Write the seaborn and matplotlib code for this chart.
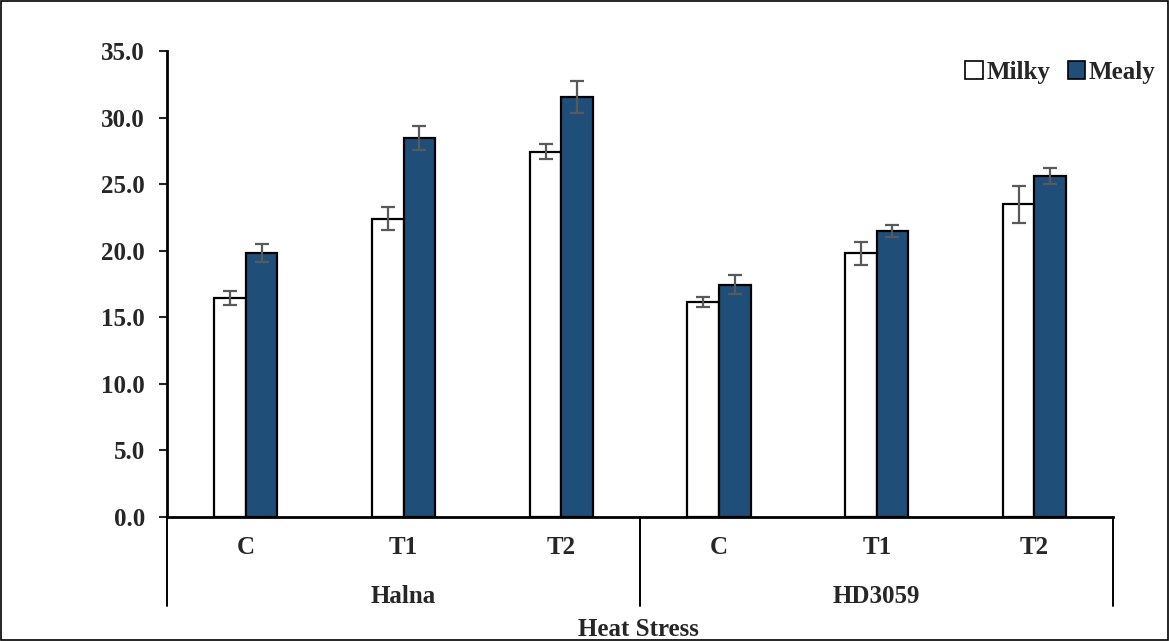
import matplotlib
matplotlib.use("Agg")
import matplotlib.pyplot as plt
import matplotlib.transforms as mtransforms
from matplotlib.patches import Rectangle
import numpy as np
import pandas as pd
import seaborn as sns

# Grain-filling data: two varieties x three heat-stress treatments
varieties = ["Halna", "HD3059"]
treatments = ["C", "T1", "T2"]
stages = ["Milky", "Mealy"]
milky_mean = [16.45, 22.4, 27.45, 16.15, 19.8, 23.5]
milky_err = [0.5, 0.85, 0.55, 0.36, 0.86, 1.38]
mealy_mean = [19.85, 28.5, 31.55, 17.45, 21.5, 25.65]
mealy_err = [0.68, 0.9, 1.18, 0.72, 0.46, 0.6]

stage_colors = {"Milky": "#FFFFFF", "Mealy": "#1F4E79"}

groups = [f"{v}|{t}" for v in varieties for t in treatments]
df = pd.DataFrame({
    "group": groups * 2,
    "stage": ["Milky"] * len(groups) + ["Mealy"] * len(groups),
    "value": milky_mean + mealy_mean,
    "err": milky_err + mealy_err,
})

sns.set_style("white")
plt.rcParams["font.family"] = ["Liberation Serif", "DejaVu Serif"]
plt.rcParams["font.weight"] = "bold"

fig = plt.figure(figsize=(11.69, 6.41), dpi=100)
ax = fig.add_axes([0.1429, 0.1934, 0.9523 - 0.1429, 0.9204 - 0.1934])

sns.barplot(data=df, x="group", y="value", hue="stage", order=groups,
            hue_order=stages, palette=stage_colors, saturation=1,
            width=0.4, gap=0, edgecolor="black", linewidth=1.6,
            errorbar=None, ax=ax)

# Error bars at the centre of each drawn bar
for stage, cont in zip(stages, ax.containers):
    errs = df[df["stage"] == stage]["err"].to_numpy()
    xs = [p.get_x() + p.get_width() / 2 for p in cont.patches]
    hs = [p.get_height() for p in cont.patches]
    ax.errorbar(xs, hs, yerr=errs, fmt="none", ecolor="#595959",
                elinewidth=1.6, capsize=5, capthick=1.6, zorder=5)

ax.set_xlim(-0.5, len(groups) - 0.5)
ax.set_ylim(0, 35)
ax.set_yticks(np.arange(0, 35.1, 5))
ax.set_yticklabels([f"{v:.1f}" for v in np.arange(0, 35.1, 5)],
                   fontsize=18, fontweight="bold")
ax.tick_params(axis="y", direction="out", length=6, width=1.5, pad=10,
               left=True)
ax.set_xticks(range(len(groups)))
ax.set_xticklabels([g.split("|")[1] for g in groups], fontsize=18,
                   fontweight="bold")
ax.tick_params(axis="x", length=0, pad=14)
ax.set_xlabel("")
ax.set_ylabel("")

for side in ["top", "right"]:
    ax.spines[side].set_visible(False)
for side in ["left", "bottom"]:
    ax.spines[side].set_color("black")
    ax.spines[side].set_linewidth(2)

# Second level of the category axis: variety names and separators
trans = mtransforms.blended_transform_factory(ax.transData, ax.transAxes)
for xpos in [-0.5, 2.5, 5.5]:
    ax.plot([xpos, xpos], [0, -0.191], color="black", lw=1.4,
            transform=trans, clip_on=False)
for i, v in enumerate(varieties):
    ax.text(i * 3 + 1, -0.17, v, transform=trans, ha="center",
            va="center", fontsize=18, fontweight="bold")

fig.text(0.546, 1 - 630 / 641, "Heat Stress", ha="center", va="center",
         fontsize=18, fontweight="bold")

leg = ax.legend(loc="center right", bbox_to_anchor=(1.008, 1 - 72 / 641),
                bbox_transform=fig.transFigure, ncol=2, frameon=False,
                handlelength=0.7, handleheight=0.7, handletextpad=0.15,
                columnspacing=0.7, prop={"size": 18, "weight": "bold"})
for h in leg.legend_handles:
    h.set_edgecolor("black")
    h.set_linewidth(1.2)

fig.patches.append(Rectangle((0.001, 0.001), 0.998, 0.997,
                             transform=fig.transFigure, fill=False,
                             edgecolor="black", linewidth=1.2))

fig.savefig("out.png", dpi=100)
